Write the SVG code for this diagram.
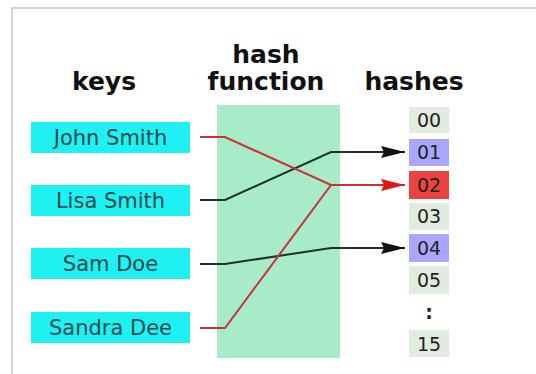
<svg xmlns="http://www.w3.org/2000/svg" width="536" height="374" viewBox="0 0 536 374">
<defs>
<style>
.hdr{font-family:"DejaVu Sans",sans-serif;font-weight:bold;font-size:25px;fill:#111;text-anchor:middle}
.key rect{fill:#1ff0f2}
.key text{font-family:"DejaVu Sans",sans-serif;font-size:21px;fill:#1a4a4e;text-anchor:middle}
.h text{font-family:"DejaVu Sans",sans-serif;font-size:19px;fill:#222;text-anchor:middle}
.g{fill:#e1ebdf}
.b{fill:#a9a7fb}
.r{fill:#ec4242}
.blk{fill:none;stroke:#1d3326;stroke-width:2}
.red{fill:none;stroke:#c83232;stroke-width:2}
</style>
<marker id="ab" markerUnits="userSpaceOnUse" viewBox="0 0 24 12" refX="24" refY="6" markerWidth="24" markerHeight="12" orient="auto"><path d="M0,0 L24,6 L0,12 L3,6 z" fill="#111"/></marker>
<marker id="ar" markerUnits="userSpaceOnUse" viewBox="0 0 24 12" refX="24" refY="6" markerWidth="24" markerHeight="12" orient="auto"><path d="M0,0 L24,6 L0,12 L3,6 z" fill="#e01818"/></marker>
</defs>
<rect x="0" y="0" width="536" height="374" fill="#fff"/>
<rect x="12" y="8" width="540" height="380" fill="none" stroke="#c8c8c8" stroke-width="1.5"/>
<g id="hash-function"><rect x="217" y="105" width="123" height="253" fill="#a8ebc9"/></g>
<text class="hdr" x="104" y="90">keys</text>
<text class="hdr" x="266" y="63">hash</text>
<text class="hdr" x="266" y="90">function</text>
<text class="hdr" x="414" y="90">hashes</text>
<g id="key-john" class="key"><rect x="31" y="122" width="159" height="31"/><text x="110.5" y="145">John Smith</text></g>
<g id="key-lisa" class="key"><rect x="31" y="185" width="159" height="31"/><text x="110.5" y="208">Lisa Smith</text></g>
<g id="key-sam" class="key"><rect x="31" y="248" width="159" height="31"/><text x="110.5" y="271">Sam Doe</text></g>
<g id="key-sandra" class="key"><rect x="31" y="312" width="159" height="31"/><text x="110.5" y="335">Sandra Dee</text></g>
<g id="h00" class="h"><rect class="g" x="409" y="107" width="40" height="26"/><text x="429" y="127">00</text></g>
<g id="h01" class="h"><rect class="b" x="409" y="139" width="40" height="27"/><text x="429" y="159">01</text></g>
<g id="h02" class="h"><rect class="r" x="409" y="171" width="40" height="28"/><text x="429" y="192">02</text></g>
<g id="h03" class="h"><rect class="g" x="409" y="203" width="40" height="27"/><text x="429" y="223">03</text></g>
<g id="h04" class="h"><rect class="b" x="409" y="234" width="40" height="28"/><text x="429" y="255">04</text></g>
<g id="h05" class="h"><rect class="g" x="409" y="266" width="40" height="28"/><text x="429" y="287">05</text></g>
<g id="hdots" class="h"><text x="429" y="319" font-weight="bold">:</text></g>
<g id="h15" class="h"><rect class="g" x="409" y="330" width="40" height="27"/><text x="429" y="351">15</text></g>
<g id="connectors">
<path class="blk" d="M200,200 H225 L331,152 H405" marker-end="url(#ab)"/>
<path class="blk" d="M200,264 H225 L331,248 H405" marker-end="url(#ab)"/>
<path class="red" d="M200,328 H225 L331,185"/>
<path class="red" d="M200,137 H225 L331,185 H405" marker-end="url(#ar)"/>
</g>
</svg>
